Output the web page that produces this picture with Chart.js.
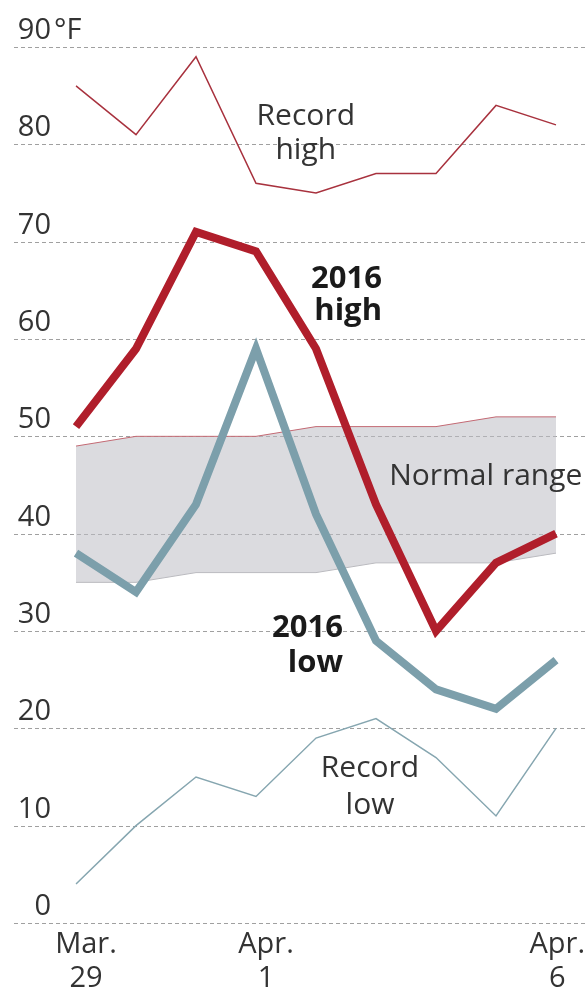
<!DOCTYPE html>
<html>
<head>
<meta charset="utf-8">
<script src="https://cdn.jsdelivr.net/npm/chart.js@4.4.1/dist/chart.umd.min.js"></script>
<style>
  html, body { margin: 0; padding: 0; background: #fff; }
  #wrap { width: 586px; height: 989px; position: relative; }
</style>
</head>
<body>
<div id="wrap"><canvas id="c"></canvas></div>
<script>
// ---- data ----
const days = ["Mar. 29", "Mar. 30", "Mar. 31", "Apr. 1", "Apr. 2", "Apr. 3", "Apr. 4", "Apr. 5", "Apr. 6"];
const xTickLabels = [["Mar.", "29"], null, null, ["Apr.", "1"], null, null, null, null, ["Apr.", "6"]];
const recordHigh = [86, 81, 89, 76, 75, 77, 77, 84, 82];
const high2016   = [51, 59, 71, 69, 59, 43, 30, 37, 40];
const normalHigh = [49, 50, 50, 50, 51, 51, 51, 52, 52];
const normalLow  = [35, 35, 36, 36, 36, 37, 37, 37, 38];
const low2016    = [38, 34, 43, 59, 42, 29, 24, 22, 27];
const recordLow  = [4, 10, 15, 13, 19, 21, 17, 11, 20];
const yTicks = [0, 10, 20, 30, 40, 50, 60, 70, 80, 90];
const yUnit = "°F";

const annotations = [
  { lines: ["Record", "high"], x: 3.83, y: 82.0, align: "center", bold: false, lh: 34 },
  { lines: ["2016", "high"], x: 5.1, y: 65.2, align: "right", bold: true, lh: 32 },
  { lines: ["Normal range"], x: 5.22, y: 45.0, align: "left", bold: false, lh: 30 },
  { lines: ["2016", "low"], x: 4.45, y: 29.4, align: "right", bold: true, lh: 35 },
  { lines: ["Record", "low"], x: 4.9, y: 15.0, align: "center", bold: false, lh: 37 }
];

const FONT = "'Open Sans', 'DejaVu Sans', sans-serif";
const TEXT = "#333333";

const decor = {
  id: "decor",
  beforeDatasetsDraw(chart) {
    const { ctx, scales: { y } } = chart;
    ctx.save();
    ctx.strokeStyle = "#a0a0a0";
    ctx.lineWidth = 1;
    ctx.setLineDash([4, 3]);
    yTicks.forEach(v => {
      const py = Math.round(y.getPixelForValue(v)) + 0.5;
      ctx.beginPath();
      ctx.moveTo(14, py);
      ctx.lineTo(chart.width, py);
      ctx.stroke();
    });
    ctx.restore();
  },
  afterDatasetsDraw(chart) {
    const { ctx, scales: { x, y } } = chart;
    ctx.save();
    // y labels
    ctx.fillStyle = TEXT;
    ctx.font = "29px " + FONT;
    ctx.textBaseline = "alphabetic";
    yTicks.forEach((v, i) => {
      const py = y.getPixelForValue(v) - 8;
      ctx.textAlign = "right";
      ctx.fillText(String(v), 51, py);
      if (i === yTicks.length - 1) {
        ctx.textAlign = "left";
        ctx.fillText(yUnit, 54, py);
      }
    });
    // x labels
    ctx.font = "29px " + FONT;
    ctx.textAlign = "center";
    xTickLabels.forEach((lab, i) => {
      if (!lab) return;
      let px = x.getPixelForValue(i) + 10;
      const w = Math.max(...lab.map(s => ctx.measureText(s).width));
      px = Math.min(px, chart.width - w / 2 - 1);
      const base = y.getPixelForValue(0) + 30;
      lab.forEach((s, k) => ctx.fillText(s, px, base + k * 34));
    });
    // annotations
    annotations.forEach(a => {
      ctx.font = (a.bold ? "bold 31px " : "30px ") + FONT;
      ctx.fillStyle = a.bold ? "#1a1a1a" : TEXT;
      ctx.textAlign = a.align;
      const px = x.getPixelForValue(a.x);
      const py = y.getPixelForValue(a.y);
      a.lines.forEach((s, k) => ctx.fillText(s, px, py + k * a.lh));
    });
    ctx.restore();
  }
};

new Chart(document.getElementById("c"), {
  type: "line",
  data: {
    labels: days,
    datasets: [
      { label: "2016 high", data: high2016, borderColor: "#b01e2b", borderWidth: 8, order: 1 },
      { label: "2016 low", data: low2016, borderColor: "#7c9fab", borderWidth: 8, order: 2 },
      { label: "Record high", data: recordHigh, borderColor: "#a8323e", borderWidth: 1.5, order: 3 },
      { label: "Record low", data: recordLow, borderColor: "#86a6b0", borderWidth: 1.5, order: 4 },
      { label: "Normal high", data: normalHigh, borderColor: "#c46a74", borderWidth: 1, fill: "+1",
        backgroundColor: "rgba(190,190,196,0.55)", order: 5 },
      { label: "Normal low", data: normalLow, borderColor: "#b9b9bd", borderWidth: 1, order: 6 }
    ]
  },
  options: {
    responsive: true,
    maintainAspectRatio: false,
    animation: false,
    layout: { padding: { left: 76, right: 30, top: 47, bottom: 66 } },
    elements: { point: { radius: 0, hoverRadius: 0 }, line: { tension: 0, fill: false } },
    plugins: { legend: { display: false }, tooltip: { enabled: false } },
    scales: {
      x: { display: false, offset: false },
      y: { display: false, min: 0, max: 90 }
    }
  },
  plugins: [decor]
});
</script>
</body>
</html>
